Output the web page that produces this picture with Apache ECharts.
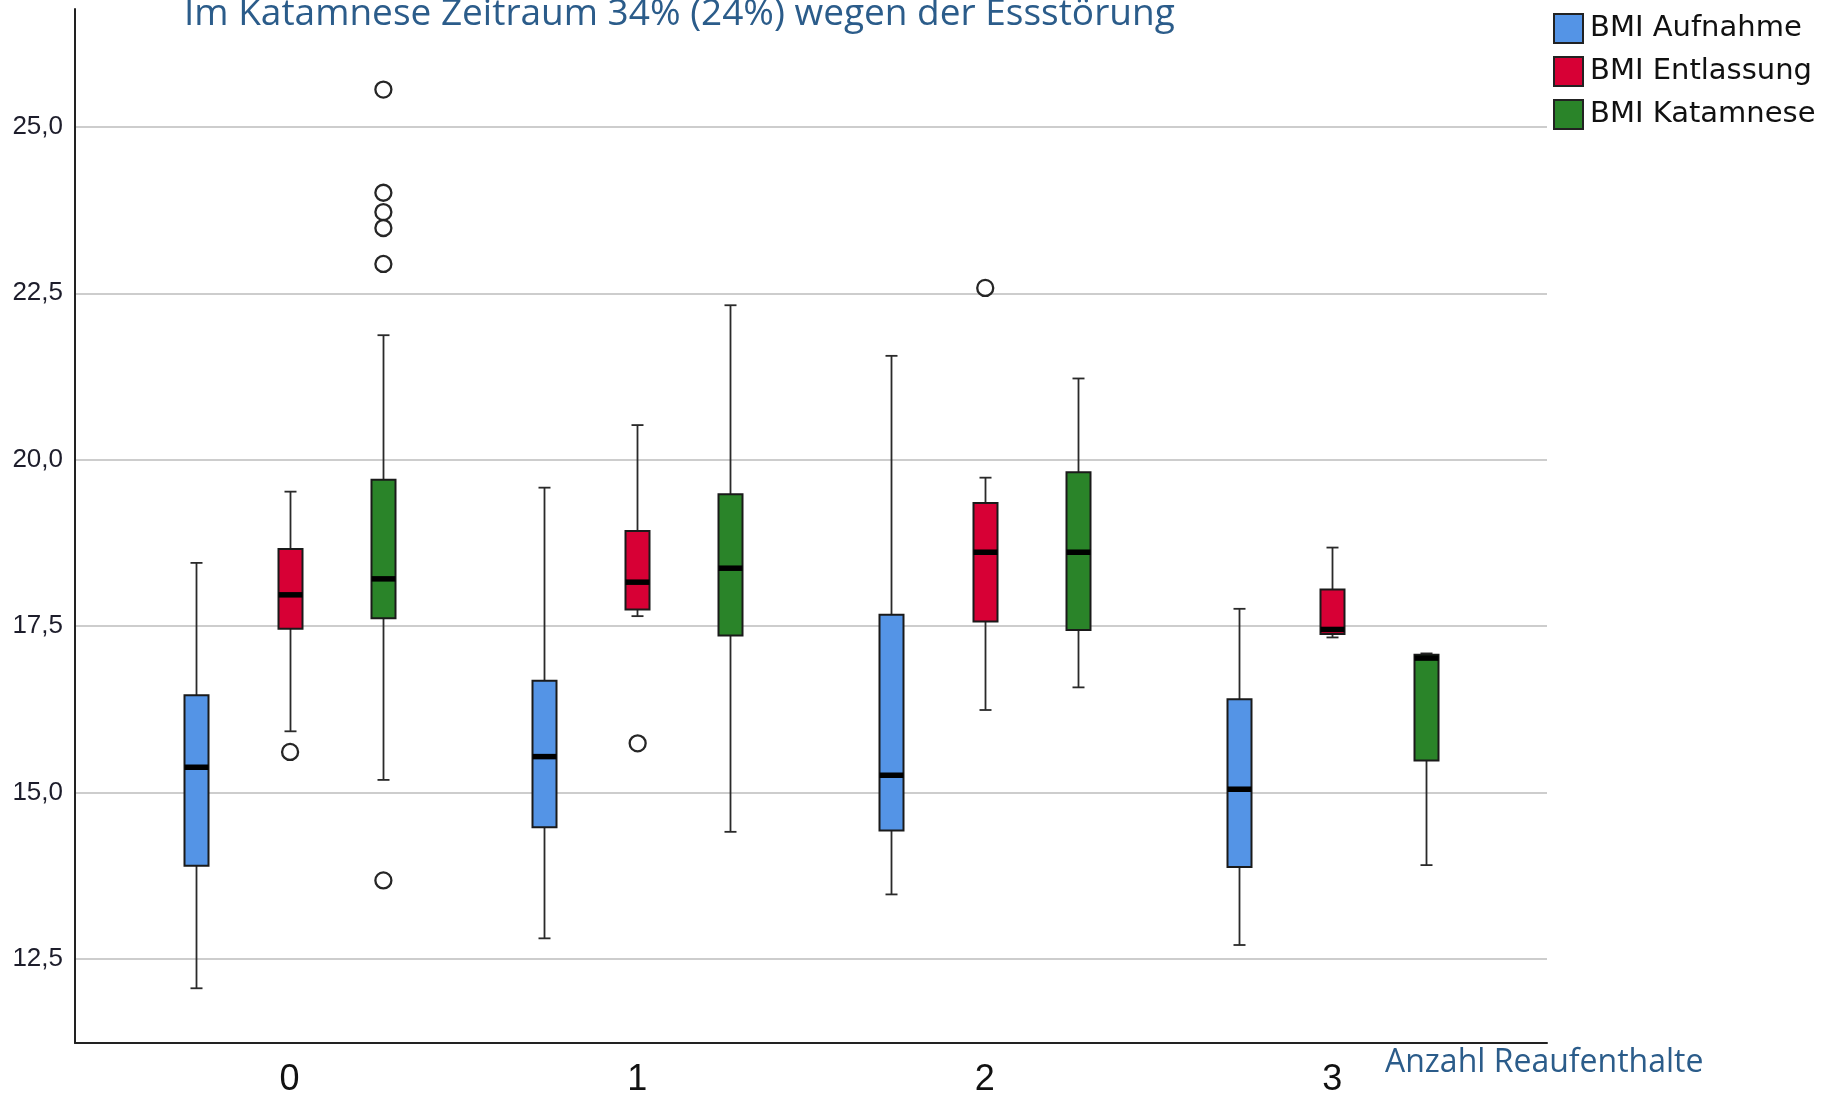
<!DOCTYPE html>
<html>
<head>
<meta charset="utf-8">
<title>BMI nach Anzahl Reaufenthalte</title>
<script src="https://cdn.jsdelivr.net/npm/echarts@6/dist/echarts.min.js"></script>
<style>
  html, body { margin: 0; padding: 0; background: #fff; }
  #chart { width: 1829px; height: 1098px; }
</style>
</head>
<body>
<div id="chart"></div>
<script>
// Categories on the x axis (number of readmissions)
const categories = ['0', '1', '2', '3'];
const seriesNames = ['BMI Aufnahme', 'BMI Entlassung', 'BMI Katamnese'];
const yTicks = [12.5, 15, 17.5, 20, 22.5, 25];

// Box statistics per category: [min, Q1, median, Q3, max]
const aufnahmeStats = [
  [12.06, 13.90, 15.38, 16.46, 18.45],
  [12.81, 14.48, 15.54, 16.68, 19.58],
  [13.47, 14.43, 15.26, 17.67, 21.56],
  [12.71, 13.88, 15.05, 16.40, 17.76]
];
const entlassungStats = [
  [15.92, 17.46, 17.97, 18.66, 19.52],
  [17.65, 17.75, 18.16, 18.93, 20.52],
  [16.24, 17.57, 18.61, 19.35, 19.73],
  [17.33, 17.38, 17.45, 18.05, 18.68]
];
const katamneseStats = [
  [15.19, 17.62, 18.21, 19.70, 21.87],
  [14.41, 17.36, 18.37, 19.48, 22.32],
  [16.58, 17.44, 18.61, 19.81, 21.22],
  [13.91, 15.48, 17.02, 17.07, 17.09]
];

// Outliers: [category index, BMI]
const aufnahmeOutliers = [];
const entlassungOutliers = [[0, 15.61], [1, 15.74], [2, 22.58]];
const katamneseOutliers = [
  [0, 25.56], [0, 24.01], [0, 23.72], [0, 23.48], [0, 22.94], [0, 13.68]
];

const colors = ['#5494e6', '#d70035', '#2a8429'];
const allStats = [aufnahmeStats, entlassungStats, katamneseStats];
const allOutliers = [aufnahmeOutliers, entlassungOutliers, katamneseOutliers];

// Layout of the three boxes inside one category (fraction of one category step)
const GROUP_SHIFT = 0.2684;
const BOX_W = 24;
const CAP_W = 12;
const EDGE = '#1a1a1a';

function groupShift(api, g) {
  return (g - 1) * GROUP_SHIFT * api.size([1, 0])[0];
}

function boxRenderer(g) {
  return function (params, api) {
    const dx = groupShift(api, g);
    const c = api.value(0);
    const pMin = api.coord([c, api.value(1)]);
    const pQ1 = api.coord([c, api.value(2)]);
    const pMed = api.coord([c, api.value(3)]);
    const pQ3 = api.coord([c, api.value(4)]);
    const pMax = api.coord([c, api.value(5)]);
    const x = Math.round(pMin[0] + dx) + 0.5;
    const lineStyle = { stroke: '#2a2a2a', lineWidth: 1.8, fill: null };
    return {
      type: 'group',
      children: [
        { type: 'line', shape: { x1: x, y1: pMax[1], x2: x, y2: pQ3[1] }, style: lineStyle },
        { type: 'line', shape: { x1: x, y1: pQ1[1], x2: x, y2: pMin[1] }, style: lineStyle },
        { type: 'line', shape: { x1: x - CAP_W / 2, y1: pMax[1], x2: x + CAP_W / 2, y2: pMax[1] }, style: lineStyle },
        { type: 'line', shape: { x1: x - CAP_W / 2, y1: pMin[1], x2: x + CAP_W / 2, y2: pMin[1] }, style: lineStyle },
        {
          type: 'rect',
          shape: { x: x - BOX_W / 2, y: pQ3[1], width: BOX_W, height: pQ1[1] - pQ3[1] },
          style: { fill: colors[g], stroke: EDGE, lineWidth: 2 }
        },
        {
          type: 'rect',
          shape: { x: x - BOX_W / 2, y: pMed[1] - 2.75, width: BOX_W, height: 5.5 },
          style: { fill: '#000' }
        }
      ]
    };
  };
}

function outlierRenderer(g) {
  return function (params, api) {
    const dx = groupShift(api, g);
    const p = api.coord([api.value(0), api.value(1)]);
    return {
      type: 'circle',
      shape: { cx: p[0] + dx + 0.5, cy: p[1], r: 8 },
      style: { fill: '#fff', stroke: '#262626', lineWidth: 2.3 }
    };
  };
}

const series = [];
seriesNames.forEach(function (name, g) {
  series.push({
    type: 'custom',
    name: name,
    renderItem: boxRenderer(g),
    itemStyle: { color: colors[g] },
    encode: { x: 0, y: [1, 2, 3, 4, 5] },
    data: allStats[g].map(function (s, c) { return [c].concat(s); }),
    z: 3
  });
  series.push({
    type: 'custom',
    name: name,
    renderItem: outlierRenderer(g),
    itemStyle: { color: colors[g] },
    encode: { x: 0, y: 1 },
    data: allOutliers[g],
    z: 4
  });
});

const chart = echarts.init(document.getElementById('chart'), null, { renderer: 'canvas' });
chart.setOption({
  animation: false,
  backgroundColor: '#ffffff',
  title: {
    text: 'Im Katamnese Zeitraum 34% (24%) wegen der Essstörung',
    left: 184,
    top: -4,
    padding: 0,
    textStyle: {
      fontFamily: '"Open Sans", sans-serif',
      fontSize: 37,
      fontWeight: 'normal',
      color: '#2b5c8a'
    }
  },
  legend: {
    data: seriesNames,
    orient: 'vertical',
    left: 1553,
    top: 13,
    padding: 0,
    itemWidth: 29,
    itemHeight: 29,
    itemGap: 12,
    icon: 'rect',
    itemStyle: { borderColor: '#222', borderWidth: 2 },
    textStyle: {
      fontFamily: '"DejaVu Sans", sans-serif',
      fontSize: 29,
      color: '#111',
      padding: [5, 0, 0, 2]
    },
    selectedMode: false
  },
  grid: { left: 75, right: 282, top: 9, bottom: 55 },
  xAxis: {
    type: 'value',
    min: -0.6174,
    max: 3.6177,
    name: 'Anzahl Reaufenthalte',
    nameLocation: 'end',
    nameGap: -162,
    nameTextStyle: {
      fontFamily: '"Open Sans", sans-serif',
      fontSize: 32,
      color: '#2b5c8a',
      align: 'left',
      verticalAlign: 'top',
      padding: [4, 0, 0, 0]
    },
    axisLine: { show: true, onZero: false, lineStyle: { color: '#222', width: 2 } },
    axisTick: { show: false, customValues: [0, 1, 2, 3] },
    splitLine: { show: false },
    axisLabel: {
      customValues: [0, 1, 2, 3],
      formatter: function (v) { return categories[Math.round(v)]; },
      fontFamily: '"Liberation Sans", Arial, sans-serif',
      fontSize: 36,
      color: '#111',
      margin: 19
    }
  },
  yAxis: {
    type: 'value',
    min: 11.238,
    max: 26.77,
    axisLine: { show: true, onZero: false, lineStyle: { color: '#222', width: 2 } },
    axisTick: { show: false, customValues: yTicks },
    splitLine: { show: true, lineStyle: { color: '#bcbcbc', width: 1.5 } },
    axisLabel: {
      customValues: yTicks,
      formatter: function (v) { return v.toFixed(1).replace('.', ','); },
      fontFamily: '"Liberation Sans", Arial, sans-serif',
      fontSize: 26,
      color: '#1d1d2b',
      margin: 12
    }
  },
  series: series
});
</script>
</body>
</html>
